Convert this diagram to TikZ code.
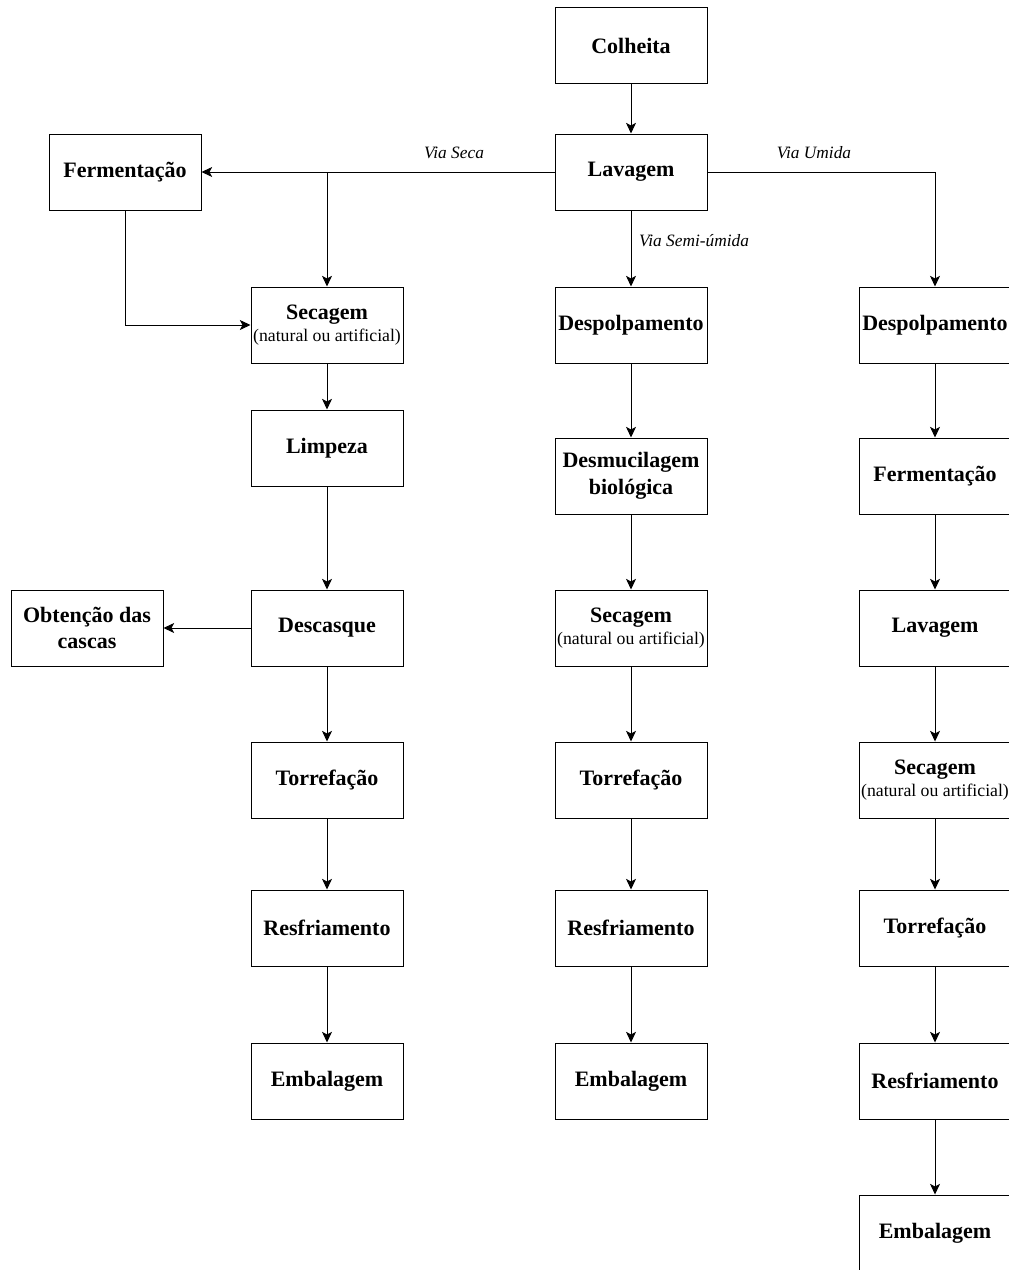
\documentclass[tikz,border=0pt]{standalone}
\usepackage{fontspec}
\setmainfont{Liberation Serif}
\usetikzlibrary{arrows.meta, calc, positioning}
\newcommand{\obsseca}{{\fontsize{13.3}{15}\selectfont\mdseries (natural ou artificial)}}

\begin{document}
\begin{tikzpicture}[x=0.75pt, y=-0.75pt, >={Stealth[length=8pt, width=7.5pt, inset=2pt]}]

	\tikzstyle{procr}=[draw=black, line width=0.75pt, minimum width=114pt, minimum height=57pt, inner sep=0pt, align=center, font=\fontsize{16.5}{20}\selectfont\bfseries]
	\tikzstyle{flow}=[->, line width=0.75pt]
	\tikzstyle{via}=[font=\fontsize{13}{15}\selectfont\itshape]

	\useasboundingbox (0,0) rectangle (1008,1270);

	% tronco comum
	\node (colheita) at (631,46) [procr] {Colheita};
	\node (lavagem) at (631,172) [procr] {Lavagem};

	% via seca
	\node (fermA) at (125,172) [procr] {Fermentação};
	\node (secA) at (327,325) [procr] {Secagem\\[-3pt]\obsseca};
	\node (limpA) at (327,448) [procr] {Limpeza};
	\node (descA) at (327,628) [procr] {Descasque};
	\node (cascas) at (87,628) [procr] {Obtenção das\\cascas};
	\node (torrA) at (327,780) [procr] {Torrefação};
	\node (resfA) at (327,928) [procr] {Resfriamento};
	\node (embA) at (327,1081) [procr] {Embalagem};

	% via semi-umida
	\node (despB) at (631,325) [procr] {Despolpamento};
	\node (desmB) at (631,476) [procr] {Desmucilagem\\biológica};
	\node (secB) at (631,628) [procr] {Secagem\\[-3pt]\obsseca};
	\node (torrB) at (631,780) [procr] {Torrefação};
	\node (resfB) at (631,928) [procr] {Resfriamento};
	\node (embB) at (631,1081) [procr] {Embalagem};

	% via umida
	\node (despC) at (935,325) [procr] {Despolpamento};
	\node (fermC) at (935,476) [procr] {Fermentação};
	\node (lavC) at (935,628) [procr] {Lavagem};
	\node (secC) at (935,780) [procr] {Secagem\\[-3pt]\obsseca};
	\node (torrC) at (935,928) [procr] {Torrefação};
	\node (resfC) at (935,1081) [procr] {Resfriamento};
	\node (embC) at (935,1233) [procr] {Embalagem};

	% rotulos das vias
	\node (lblseca) at (454,153) [via] {Via Seca};
	\node (lblsemi) at (694,241) [via] {Via Semi-úmida};
	\node (lblumida) at (814,153) [via] {Via Umida};

	\coordinate (ramoseca) at (secA |- lavagem);

	\draw [flow] (colheita) -- (lavagem);
	\draw [flow] (lavagem) -- (fermA);
	\draw [flow] (ramoseca) -- (secA);
	\draw [flow] (fermA) |- (secA);
	\draw [flow] (lavagem) -- (despB);
	\draw [flow] (lavagem) -| (despC);

	\draw [flow] (secA) -- (limpA);
	\draw [flow] (limpA) -- (descA);
	\draw [flow] (descA) -- (cascas);
	\draw [flow] (descA) -- (torrA);
	\draw [flow] (torrA) -- (resfA);
	\draw [flow] (resfA) -- (embA);

	\draw [flow] (despB) -- (desmB);
	\draw [flow] (desmB) -- (secB);
	\draw [flow] (secB) -- (torrB);
	\draw [flow] (torrB) -- (resfB);
	\draw [flow] (resfB) -- (embB);

	\draw [flow] (despC) -- (fermC);
	\draw [flow] (fermC) -- (lavC);
	\draw [flow] (lavC) -- (secC);
	\draw [flow] (secC) -- (torrC);
	\draw [flow] (torrC) -- (resfC);
	\draw [flow] (resfC) -- (embC);
\end{tikzpicture}
\end{document}
